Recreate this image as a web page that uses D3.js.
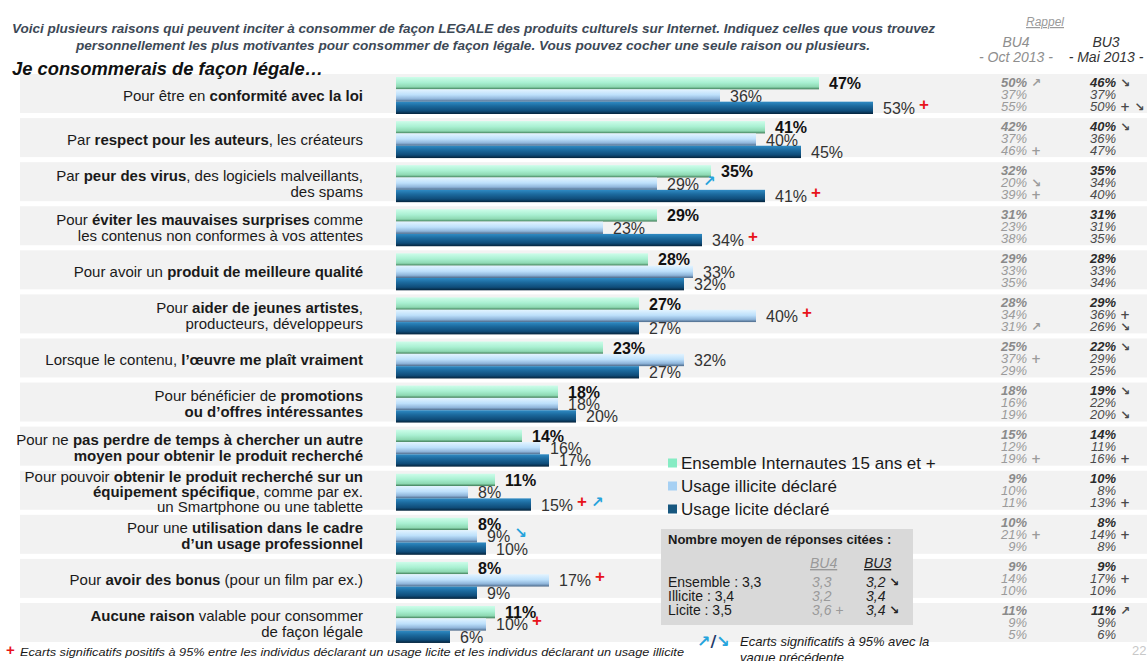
<!DOCTYPE html>
<html><head><meta charset="utf-8">
<script src="https://cdn.jsdelivr.net/npm/d3@7"></script>
<style>body{margin:0;background:#fff}svg{display:block;font-family:"Liberation Sans",Arial,sans-serif}</style>
</head><body><svg id="c" width="1147" height="661"></svg>
<script>
// ---------- DATA ----------
const categories = [
  ["Pour être en **conformité avec la loi**"],
  ["Par **respect pour les auteurs**, les créateurs"],
  ["Par **peur des virus**, des logiciels malveillants,", "des spams"],
  ["Pour **éviter les mauvaises surprises** comme", "les contenus non conformes à vos attentes"],
  ["Pour avoir un **produit de meilleure qualité**"],
  ["Pour **aider de jeunes artistes**,", "producteurs, développeurs"],
  ["Lorsque le contenu, **l’œuvre me plaît vraiment**"],
  ["Pour bénéficier de **promotions**", "**ou d’offres intéressantes**"],
  ["Pour ne **pas perdre de temps à chercher un autre**", "**moyen pour obtenir le produit recherché**"],
  ["Pour pouvoir **obtenir le produit recherché sur un**", "**équipement spécifique**, comme par ex.", "un Smartphone ou une tablette"],
  ["Pour une **utilisation dans le cadre**", "**d’un usage professionnel**"],
  ["Pour **avoir des bonus** (pour un film par ex.)"],
  ["**Aucune raison** valable pour consommer", "de façon légale"]
];
const seriesNames = ["Ensemble Internautes 15 ans et +", "Usage illicite déclaré", "Usage licite déclaré"];
const ensemble = [47, 41, 35, 29, 28, 27, 23, 18, 14, 11, 8, 8, 11];
const illicite = [36, 40, 29, 23, 33, 40, 32, 18, 16, 8, 9, 17, 10];
const licite   = [53, 45, 41, 34, 32, 27, 27, 20, 17, 15, 10, 9, 6];
const ensembleMarks = ["", "", "", "", "", "", "", "", "", "", "", "", ""];
const illiciteMarks = ["", "", "↗", "", "", "+", "", "", "", "", "↘", "+", "+"];
const liciteMarks   = ["+", "", "+", "+", "", "", "", "", "", "+↗", "", "", ""];

const bu4Ens = [50, 42, 32, 31, 29, 28, 25, 18, 15, 9, 10, 9, 11];
const bu4Ill = [37, 37, 20, 23, 33, 34, 37, 16, 12, 10, 21, 14, 9];
const bu4Lic = [55, 46, 39, 38, 35, 31, 29, 19, 19, 11, 9, 10, 5];
const bu4Marks = [["↗","",""],["","","+"],["","↘","+"],["","",""],["","",""],["","","↗"],["","+",""],["","",""],["","","+"],["","",""],["","+",""],["","",""],["","",""]];
const bu3Ens = [46, 40, 35, 31, 28, 29, 22, 19, 14, 10, 8, 9, 11];
const bu3Ill = [37, 36, 34, 31, 33, 36, 29, 22, 11, 8, 14, 17, 9];
const bu3Lic = [50, 47, 40, 35, 34, 26, 25, 20, 16, 13, 8, 10, 6];
const bu3Marks = [["↘","","+↘"],["↘","",""],["","",""],["","",""],["","",""],["","+","↘"],["↘","",""],["↘","","↘"],["","","+"],["","","+"],["","+",""],["","+",""],["↗","",""]];

const avgLabels = ["Ensemble : 3,3", "Illicite : 3,4", "Licite : 3,5"];
const avgBU4 = ["3,3", "3,2", "3,6"];
const avgBU4Marks = ["", "", "+"];
const avgBU3 = ["3,2", "3,4", "3,4"];
const avgBU3Marks = ["↘", "", "↘"];

// ---------- CHART ----------
const W = 1147, H = 661;
const svg = d3.select("#c");
const defs = svg.append("defs");
const grads = [
  [["0","#cdfdea"],["0.45","#a9f0d2"],["0.8","#8dd8b2"],["1","#3d7b55"]],
  [["0","#e3f4ff"],["0.45","#bde0fb"],["0.78","#8fb5da"],["1","#4c6989"]],
  [["0","#2f8bc4"],["0.35","#1c6a9e"],["0.75","#0f4c79"],["1","#05233b"]]
];
grads.forEach((g, i) => {
  const lg = defs.append("linearGradient").attr("id", "g" + i).attr("x1", 0).attr("y1", 0).attr("x2", 0).attr("y2", 1);
  g.forEach(s => lg.append("stop").attr("offset", s[0]).attr("stop-color", s[1]));
});

const idx = d3.range(categories.length);
const y = d3.scaleBand().domain(idx).range([72, 72 + 44.08 * categories.length]).padding(0);
const x = d3.scaleLinear().domain([0, 100]).range([396, 1296]);
const inner = d3.scaleBand().domain([0, 1, 2]).range([5, 42]);
const series = [ensemble, illicite, licite];
const marks = [ensembleMarks, illiciteMarks, liciteMarks];

// background strips
svg.append("g").selectAll("rect").data(idx).join("rect")
  .attr("x", 20).attr("width", W - 20)
  .attr("y", d => y(d) + 2).attr("height", 39)
  .attr("fill", "#f2f2f2");

function rich(sel, str) {
  str.split("**").forEach((p, i) => {
    if (p) sel.append("tspan").attr("font-weight", i % 2 ? "bold" : "normal").text(p);
  });
}

// category labels
const lab = svg.append("g").attr("font-size", 15).attr("fill", "#1a1a1a").attr("text-anchor", "end");
idx.forEach(i => {
  const lines = categories[i];
  const c = y(i) + 23.5;
  const sp = lines.length > 2 ? 15 : 16;
  lines.forEach((ln, k) => {
    const t = lab.append("text").attr("x", 363).attr("y", c + (k - (lines.length - 1) / 2) * sp + 5);
    rich(t, ln);
  });
});

// bars
const barsG = svg.append("g");
series.forEach((vals, s) => {
  barsG.selectAll(null).data(idx).join("rect")
    .attr("x", x(0)).attr("y", i => y(i) + inner(s))
    .attr("width", i => x(vals[i]) - x(0)).attr("height", inner.bandwidth())
    .attr("fill", `url(#g${s})`);
});

// value labels
const valG = svg.append("g").attr("font-size", 16);
series.forEach((vals, s) => {
  idx.forEach(i => {
    const cy = y(i) + inner(s) + inner.bandwidth() / 2;
    const tx = x(vals[i]) + 10;
    const t = valG.append("text").attr("x", tx).attr("y", cy + 6)
      .attr("font-weight", s === 0 ? "bold" : "normal")
      .attr("fill", s === 0 ? "#111" : "#333").text(vals[i] + "%");
    let px = tx + t.node().getComputedTextLength() + 4;
    for (const m of marks[s][i]) {
      if (m === "+") {
        valG.append("text").attr("x", px).attr("y", cy + 2).attr("font-size", 17).attr("font-weight", "bold")
          .attr("fill", "#e8141b").text("+");
        px += 14;
      } else {
        valG.append("text").attr("x", px).attr("y", cy + 2).attr("font-size", 15).attr("font-weight", "bold")
          .attr("font-family", "DejaVu Sans").attr("fill", "#26a3dc").text(m);
        px += 14;
      }
    }
  });
});

// right columns
const rc = svg.append("g").attr("font-size", 13).attr("font-style", "italic");
function col(xr, arrs, mk, colors, bold) {
  idx.forEach(i => {
    arrs.forEach((a, k) => {
      const cy = y(i) + 10 + k * 12;
      rc.append("text").attr("x", xr).attr("y", cy + 4.5).attr("text-anchor", "end")
        .attr("font-weight", k === 0 && bold ? "bold" : "normal")
        .attr("fill", colors[k === 0 ? 0 : 1]).text(a[i] + "%");
      if (mk[i][k]) {
        rc.append("text").attr("x", xr + 4).attr("y", cy + 4.5).attr("font-style", "normal")
          .attr("font-weight", "bold").attr("font-family", "DejaVu Sans").attr("font-size", 12)
          .attr("fill", colors[1]).text(mk[i][k].split("").join(" "));
      }
    });
  });
}
col(1027, [bu4Ens, bu4Ill, bu4Lic], bu4Marks, ["#8a8a8a", "#9b9b9b"], true);
col(1116, [bu3Ens, bu3Ill, bu3Lic], bu3Marks, ["#2b2b2b", "#4a4a4a"], true);

// right header
const rh = svg.append("g").attr("font-style", "italic").attr("text-anchor", "middle");
rh.append("text").attr("x", 1045).attr("y", 26).attr("font-size", 12).attr("fill", "#9a9a9a")
  .attr("text-decoration", "underline").text("Rappel");
rh.append("text").attr("x", 1016).attr("y", 47).attr("font-size", 14).attr("fill", "#8e8e8e").text("BU4");
rh.append("text").attr("x", 1016).attr("y", 62).attr("font-size", 14).attr("fill", "#8e8e8e").text("- Oct 2013 -");
rh.append("text").attr("x", 1106).attr("y", 47).attr("font-size", 14).attr("fill", "#333").text("BU3");
rh.append("text").attr("x", 1106).attr("y", 62).attr("font-size", 14).attr("fill", "#333").text("- Mai 2013 -");

// title
const tt = svg.append("g").attr("font-style", "italic").attr("font-weight", "bold").attr("fill", "#3d4956").attr("font-size", 13.5);
tt.append("text").attr("x", 12).attr("y", 33).attr("textLength", 923).attr("lengthAdjust", "spacingAndGlyphs")
  .text("Voici plusieurs raisons qui peuvent inciter à consommer de façon LEGALE des produits culturels sur Internet. Indiquez celles que vous trouvez");
tt.append("text").attr("x", 76).attr("y", 50).attr("textLength", 794).attr("lengthAdjust", "spacingAndGlyphs")
  .text("personnellement les plus motivantes pour consommer de façon légale. Vous pouvez cocher une seule raison ou plusieurs.");
svg.append("text").attr("x", 12).attr("y", 75).attr("font-size", 18.5).attr("font-weight", "bold").attr("font-style", "italic")
  .attr("fill", "#111").attr("textLength", 311).attr("lengthAdjust", "spacingAndGlyphs").text("Je consommerais de façon légale…");

// legend
const legCols = ["#86ecc4", "#a6d0f3", "#17577f"];
const lg = svg.append("g");
seriesNames.forEach((n, k) => {
  const cy = 463 + k * 23;
  lg.append("rect").attr("x", 668).attr("y", cy - 4.5).attr("width", 9).attr("height", 9).attr("fill", legCols[k]);
  lg.append("text").attr("x", 681).attr("y", cy + 6).attr("font-size", 17).attr("fill", "#1a1a1a").text(n);
});

// average box
const bx = svg.append("g");
bx.append("rect").attr("x", 661).attr("y", 529).attr("width", 252).attr("height", 96).attr("fill", "#d9d9d9");
bx.append("text").attr("x", 668).attr("y", 544).attr("font-size", 13).attr("font-weight", "bold").attr("fill", "#1a1a1a")
  .text("Nombre moyen de réponses citées :");
bx.append("text").attr("x", 810).attr("y", 568).attr("font-size", 14).attr("font-style", "italic").attr("fill", "#999")
  .attr("text-decoration", "underline").text("BU4");
bx.append("text").attr("x", 864).attr("y", 568).attr("font-size", 14).attr("font-style", "italic").attr("fill", "#222")
  .attr("text-decoration", "underline").text("BU3");
avgLabels.forEach((l, k) => {
  const yy = 587 + k * 14;
  bx.append("text").attr("x", 668).attr("y", yy).attr("font-size", 14).attr("fill", "#1a1a1a").text(l);
  bx.append("text").attr("x", 812).attr("y", yy).attr("font-size", 14).attr("font-style", "italic").attr("fill", "#9a9a9a")
    .text(avgBU4[k] + (avgBU4Marks[k] ? " " + avgBU4Marks[k] : ""));
  bx.append("text").attr("x", 866).attr("y", yy).attr("font-size", 14).attr("font-style", "italic").attr("fill", "#222")
    .text(avgBU3[k]);
  if (avgBU3Marks[k]) bx.append("text").attr("x", 889).attr("y", yy - 1).attr("font-size", 12).attr("font-weight", "bold")
    .attr("font-family", "DejaVu Sans").attr("fill", "#222").text(avgBU3Marks[k]);
});

// footnotes
svg.append("text").attr("x", 6).attr("y", 655).attr("font-size", 15).attr("font-weight", "bold").attr("fill", "#e8141b").text("+");
svg.append("text").attr("x", 20).attr("y", 656).attr("font-size", 11.5).attr("font-style", "italic").attr("fill", "#1a1a1a")
  .attr("textLength", 664).attr("lengthAdjust", "spacingAndGlyphs")
  .text("Ecarts significatifs positifs à 95% entre les individus déclarant un usage licite et les individus déclarant un usage illicite");
const fa = svg.append("text").attr("x", 697).attr("y", 647).attr("font-size", 16).attr("font-weight", "bold").attr("font-family", "DejaVu Sans");
fa.append("tspan").attr("fill", "#26a3dc").text("↗");
fa.append("tspan").attr("fill", "#1f3a6a").text("/");
fa.append("tspan").attr("fill", "#26a3dc").text("↘");
svg.append("text").attr("x", 740).attr("y", 646).attr("font-size", 13).attr("font-style", "italic").attr("fill", "#1a1a1a")
  .text("Ecarts significatifs à 95% avec la");
svg.append("text").attr("x", 740).attr("y", 662).attr("font-size", 13).attr("font-style", "italic").attr("fill", "#1a1a1a")
  .text("vague précédente");
svg.append("text").attr("x", 1132).attr("y", 655).attr("font-size", 13).attr("fill", "#c8c8c8").text("22");
</script></body></html>
